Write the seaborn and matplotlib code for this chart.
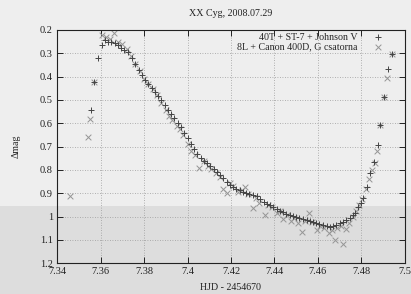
# XX Cyg light curve, two instruments, gnuplot-style look
import matplotlib
matplotlib.use('Agg')
import matplotlib.pyplot as plt
import numpy as np
import pandas as pd
import seaborn as sns
from matplotlib.patches import Rectangle

# 40T + ST-7 + Johnson V
plus_hjd = [7.3555, 7.3570, 7.3587, 7.3605, 7.3620, 7.3636, 7.3650, 7.3665, 7.3680,
            7.3695, 7.3710, 7.3725, 7.3743, 7.3760, 7.3775, 7.3790, 7.3805, 7.3820,
            7.3835, 7.3850, 7.3865, 7.3880, 7.3895, 7.3910, 7.3925, 7.3940, 7.3955,
            7.3970, 7.3985, 7.4000, 7.4015, 7.4030, 7.4045, 7.4060, 7.4075, 7.4090,
            7.4105, 7.4120, 7.4135, 7.4150, 7.4165, 7.4180, 7.4196, 7.4210, 7.4225,
            7.4241, 7.4255, 7.4270, 7.4285, 7.4300, 7.4318, 7.4335, 7.4350, 7.4365,
            7.4380, 7.4394, 7.4410, 7.4425, 7.4440, 7.4455, 7.4471, 7.4485, 7.4500,
            7.4515, 7.4530, 7.4548, 7.4562, 7.4576, 7.4590, 7.4605, 7.4624, 7.4640,
            7.4655, 7.4670, 7.4685, 7.4700, 7.4715, 7.4730, 7.4748, 7.4760, 7.4770,
            7.4786, 7.4797, 7.4808, 7.4826, 7.4842, 7.4857, 7.4877, 7.4888, 7.4903,
            7.4923, 7.4939]
plus_mag = [0.543, 0.422, 0.321, 0.264, 0.243, 0.250, 0.252, 0.257, 0.265,
            0.276, 0.286, 0.296, 0.321, 0.345, 0.370, 0.392, 0.414, 0.432,
            0.448, 0.465, 0.482, 0.500, 0.520, 0.542, 0.560, 0.578, 0.598,
            0.618, 0.640, 0.665, 0.690, 0.712, 0.732, 0.748, 0.760, 0.772,
            0.782, 0.795, 0.808, 0.820, 0.835, 0.850, 0.865, 0.873, 0.880,
            0.887, 0.893, 0.898, 0.902, 0.906, 0.910, 0.925, 0.938, 0.945,
            0.952, 0.958, 0.966, 0.975, 0.982, 0.988, 0.994, 0.999, 1.004,
            1.008, 1.012, 1.015, 1.020, 1.024, 1.028, 1.032, 1.037, 1.041,
            1.044, 1.040, 1.035, 1.030, 1.022, 1.015, 1.005, 0.995, 0.985,
            0.958, 0.940, 0.922, 0.872, 0.815, 0.765, 0.694, 0.608, 0.486,
            0.369, 0.304]

# 8L + Canon 400D, G csatorna
cross_hjd = [7.3460, 7.3540, 7.3552, 7.3570, 7.3605, 7.3625, 7.3645, 7.3660, 7.3680,
             7.3700, 7.3720, 7.3740, 7.3760, 7.3780, 7.3800, 7.3820, 7.3840, 7.3860,
             7.3880, 7.3900, 7.3915, 7.3930, 7.3950, 7.3965, 7.3980, 7.4000, 7.4015,
             7.4035, 7.4055, 7.4075, 7.4095, 7.4110, 7.4130, 7.4150, 7.4165, 7.4180,
             7.4195, 7.4210, 7.4230, 7.4250, 7.4265, 7.4280, 7.4303, 7.4315, 7.4330,
             7.4356, 7.4370, 7.4390, 7.4410, 7.4425, 7.4440, 7.4460, 7.4475, 7.4490,
             7.4510, 7.4525, 7.4540, 7.4557, 7.4575, 7.4594, 7.4610, 7.4630, 7.4650,
             7.4665, 7.4678, 7.4690, 7.4705, 7.4716, 7.4730, 7.4745, 7.4760, 7.4775,
             7.4790, 7.4805, 7.4820, 7.4835, 7.4850, 7.4862, 7.4872, 7.4888, 7.4903,
             7.4919, 7.4939]
cross_mag = [0.911, 0.658, 0.583, 0.422, 0.220, 0.232, 0.240, 0.214, 0.250,
             0.262, 0.280, 0.310, 0.345, 0.375, 0.410, 0.430, 0.455, 0.480,
             0.515, 0.545, 0.570, 0.585, 0.610, 0.625, 0.650, 0.690, 0.720,
             0.735, 0.790, 0.760, 0.785, 0.795, 0.815, 0.830, 0.880, 0.900,
             0.855, 0.870, 0.895, 0.885, 0.875, 0.905, 0.965, 0.920, 0.940,
             0.994, 0.950, 0.960, 0.985, 0.975, 1.010, 0.995, 1.020, 1.005,
             1.030, 1.066, 1.020, 0.987, 1.025, 1.058, 1.040, 1.050, 1.070,
             1.060, 1.100, 1.050, 1.040, 1.120, 1.055, 1.030, 1.000, 0.975,
             0.950, 0.925, 0.880, 0.840, 0.800, 0.770, 0.720, 0.608, 0.486,
             0.407, 0.304]

x_ticks = [7.34, 7.36, 7.38, 7.4, 7.42, 7.44, 7.46, 7.48, 7.5]
y_ticks = [0.2, 0.3, 0.4, 0.5, 0.6, 0.7, 0.8, 0.9, 1, 1.1, 1.2]

plus_df = pd.DataFrame({'hjd': plus_hjd, 'mag': plus_mag})
cross_df = pd.DataFrame({'hjd': cross_hjd, 'mag': cross_mag})

sns.set_style('ticks')
plt.rcParams['font.family'] = ['Liberation Serif', 'DejaVu Serif']
plt.rcParams['font.size'] = 7.2

fig = plt.figure(figsize=(4.11, 2.94), dpi=100, facecolor='#eeeeee')
# scanned page: slightly darker band at the bottom
fig.patches.append(Rectangle((0, 0), 1, 0.30, transform=fig.transFigure,
                             facecolor='#dddddd', edgecolor='none', zorder=-1))
ax = fig.add_axes([0.139, 0.105, 0.846, 0.793])
ax.set_facecolor('none')

sns.scatterplot(data=plus_df, x='hjd', y='mag', marker='+', s=20, color='#444444',
                linewidth=0.7, label='40T + ST-7 + Johnson V', ax=ax, zorder=3)
sns.scatterplot(data=cross_df, x='hjd', y='mag', marker='x', s=17, color='#959595',
                linewidth=0.7, label='8L + Canon 400D, G csatorna', ax=ax, zorder=2)

ax.set_xlim(7.34, 7.5)
ax.set_ylim(1.2, 0.2)
ax.set_xticks(x_ticks)
ax.set_xticklabels([f'{v:g}' for v in x_ticks])
ax.set_yticks(y_ticks)
ax.set_yticklabels([f'{v:g}' for v in y_ticks])
ax.tick_params(direction='in', length=4, width=0.7, top=True, right=True,
               labelsize=7.5, colors='#222222', pad=3)
ax.grid(True, color='#9a9a9a', linestyle=(0, (1, 2)), linewidth=0.6)
for sp in ax.spines.values():
    sp.set_linewidth(0.8)
    sp.set_color('#222222')

ax.set_title('XX Cyg, 2008.07.29', fontsize=7.2, pad=10, color='#222222')
ax.set_xlabel('HJD - 2454670', fontsize=7.2, labelpad=5, color='#222222')
ax.set_ylabel('Δmag', fontsize=7.2, labelpad=14, color='#222222')

leg = ax.legend(loc='upper right', bbox_to_anchor=(0.948, 1.005), markerfirst=False,
                frameon=False, fontsize=7.2, handletextpad=1.5, labelspacing=0.05,
                borderaxespad=0, handlelength=1.0)

fig.savefig('out.png', dpi=100, facecolor=fig.get_facecolor())
